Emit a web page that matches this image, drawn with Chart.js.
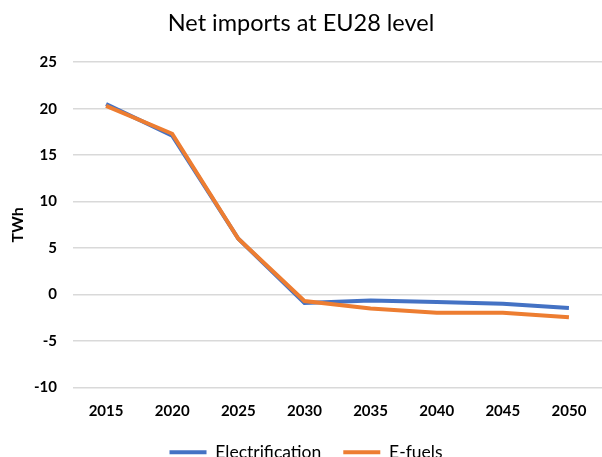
<!DOCTYPE html>
<html>
<head>
<meta charset="utf-8">
<script src="https://cdn.jsdelivr.net/npm/chart.js@4/dist/chart.umd.min.js"></script>
<style>
  html, body { margin: 0; padding: 0; background: #fff; }
  #wrap { width: 602px; height: 457px; }
</style>
</head>
<body>
<div id="wrap"><canvas id="importsChart" width="602" height="457"></canvas></div>
<script>
var years = ["2015", "2020", "2025", "2030", "2035", "2040", "2045", "2050"];
var electrification = [20.5, 17.1, 6.0, -0.9, -0.65, -0.8, -1.0, -1.45];
var eFuels = [20.3, 17.3, 6.0, -0.7, -1.5, -1.95, -1.95, -2.45];
var yTicks = [25, 20, 15, 10, 5, 0, -5, -10];

var fontFamily = "Lato, 'Open Sans', sans-serif";

var chartSet = {
    labels: years,
    datasets: [
        {
            label: "Electrification",
            data: electrification,
            borderColor: "#4472c4",
            backgroundColor: "#4472c4",
            borderWidth: 4,
            pointRadius: 0,
            tension: 0,
            order: 1
        },
        {
            // drawn last so the orange line sits on top
            label: "E-fuels",
            data: eFuels,
            borderColor: "#ed7d31",
            backgroundColor: "#ed7d31",
            borderWidth: 4,
            pointRadius: 0,
            tension: 0,
            order: 0
        }
    ]
}

// nudge the legend a little to the right
var legendShift = {
    id: "legendShift",
    afterLayout: function (chart) {
        if (chart.legend) {
            chart.legend.left += 5
            chart.legend.right += 5
        }
    }
}

var chartOptions = {
    responsive: false,
    animation: false,
    layout: { padding: { left: 0, right: 0, top: 2, bottom: -14 } },
    plugins: {
        title: {
            display: true,
            text: "Net imports at EU28 level",
            color: "#000",
            font: { family: fontFamily, size: 23.5, weight: "normal" },
            padding: { top: 7, bottom: 25 }
        },
        legend: {
            position: "bottom",
            labels: {
                color: "#000",
                font: { family: fontFamily, size: 17.5 },
                boxWidth: 37,
                boxHeight: 4,
                padding: 22,
                generateLabels: function (chart) {
                    var items = Chart.defaults.plugins.legend.labels.generateLabels(chart)
                    items.forEach(function (it) { it.lineWidth = 0 })
                    items.sort(function (a, b) { return a.datasetIndex - b.datasetIndex })
                    return items
                }
            }
        },
        tooltip: { enabled: false }
    },
    scales: {
        x: {
            offset: true,
            grid: { display: false, drawTicks: false },
            border: { display: false },
            ticks: {
                color: "#000",
                padding: 15,
                font: { family: fontFamily, size: 15, weight: "bold" }
            },
            afterFit: function (axis) {
                // let the labels use the legend's empty top padding
                axis.height -= 14
            }
        },
        y: {
            min: -10,
            max: 25,
            afterBuildTicks: function (axis) {
                axis.ticks = yTicks.map(function (v) { return { value: v } })
            },
            afterFit: function (axis) {
                axis.width = 73
            },
            grid: { color: "#d9d9d9", lineWidth: 1.5, drawTicks: false },
            border: { display: false },
            title: {
                display: true,
                text: "TWh",
                color: "#000",
                font: { family: fontFamily, size: 16, weight: "bold" },
                padding: { top: 8, bottom: 0 }
            },
            ticks: {
                color: "#000",
                padding: 16,
                font: { family: fontFamily, size: 15, weight: "bold" }
            }
        }
    }
}

window.lines = new Chart(document.getElementById("importsChart").getContext("2d"), {
    type: "line",
    data: chartSet,
    options: chartOptions,
    plugins: [legendShift]
})
</script>
</body>
</html>
